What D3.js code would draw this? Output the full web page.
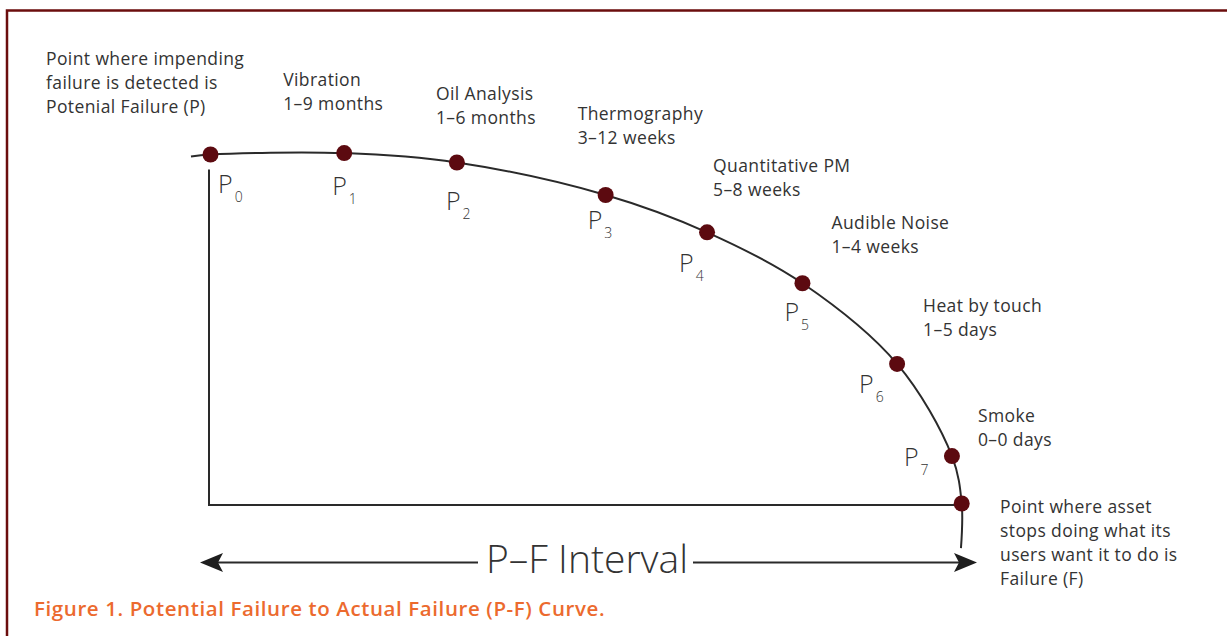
<!DOCTYPE html>
<html>
<head>
<meta charset="utf-8">
<script src="https://cdn.jsdelivr.net/npm/d3@7"></script>
<style>
  body { margin: 0; background: #fff; }
  svg text { font-family: "Open Sans", sans-serif; fill: #333; }
</style>
</head>
<body>
<svg id="chart" width="1227" height="636"></svg>
<script>
// P-F curve data: time runs 0 (P) .. 100 (F), condition 100 .. 0
const pointIds = ["0", "1", "2", "3", "4", "5", "6", "7"];
const pointTime = [0, 17.8, 32.8, 52.6, 66.1, 78.8, 91.4, 98.7, 100];
const pointCondition = [100, 100.4, 97.7, 88.4, 77.7, 63.1, 40.0, 13.6, 0];
const curveStart = [-2.6, 99.4];
const curveEnd = [99.9, -12.8];

const stageNames = ["Vibration", "Oil Analysis", "Thermography", "Quantitative PM",
  "Audible Noise", "Heat by touch", "Smoke"];
const stageRanges = ["1–9 months", "1–6 months", "3–12 weeks", "5–8 weeks",
  "1–4 weeks", "1–5 days", "0–0 days"];

const startNote = ["Point where impending", "failure is detected is", "Potenial Failure (P)"];
const endNote = ["Point where asset", "stops doing what its", "users want it to do is", "Failure (F)"];
const caption = "Figure 1. Potential Failure to Actual Failure (P-F) Curve.";

// layout nudges (pixels) for the annotations, relative to each dot
const stageNudge = [[-61, -67], [-21, -63], [-28, -75], [6, -60], [29, -54], [26, -52], [26, -34]];
const pNudge = [[7.5, 38.5], [-12, 42], [-11, 47], [-18, 34.5], [-28, 40], [-18, 38], [-38, 29.5], [-48, 10]];

const svg = d3.select('#chart');
const x = d3.scaleLinear().domain([0, 100]).range([210.5, 961.7]);
const y = d3.scaleLinear().domain([0, 100]).range([503.5, 154.5]);

const ink = '#2a2a2a';
const dotColor = '#5c0a10';
const labelSize = '17.5px';
const labelSpacing = '0.4px';

// frame
svg.append('rect')
  .attr('x', 7).attr('y', 10.5)
  .attr('width', 1240).attr('height', 660)
  .attr('fill', 'none')
  .attr('stroke', '#6b0d0d')
  .attr('stroke-width', 2.5);

// P-F interval box (vertical from P, horizontal to F)
const last = pointTime.length - 1;
svg.append('path')
  .attr('d', `M${x(0) - 1.5},${y(100) + 15}V${y(0) + 1.5}H${x(pointTime[last])}`)
  .attr('fill', 'none')
  .attr('stroke', ink)
  .attr('stroke-width', 2);

// curve
const pts = [curveStart]
  .concat(pointTime.map((t, i) => [t, pointCondition[i]]))
  .concat([curveEnd]);
const line = d3.line()
  .x(d => x(d[0]))
  .y(d => y(d[1]))
  .curve(d3.curveCatmullRom.alpha(0.5));
svg.append('path')
  .datum(pts)
  .attr('d', line)
  .attr('fill', 'none')
  .attr('stroke', ink)
  .attr('stroke-width', 2);

// dots
svg.append('g')
  .selectAll('circle')
  .data(pointTime)
  .enter().append('circle')
  .attr('cx', d => x(d))
  .attr('cy', (d, i) => y(pointCondition[i]))
  .attr('r', 8)
  .attr('fill', dotColor);

// P labels with subscripts
const pl = svg.append('g')
  .selectAll('text')
  .data(pointIds)
  .enter().append('text')
  .attr('x', (d, i) => x(pointTime[i]) + pNudge[i][0])
  .attr('y', (d, i) => y(pointCondition[i]) + pNudge[i][1])
  .style('font-size', '25px')
  .style('font-weight', 300);
pl.append('tspan').text('P');
pl.append('tspan')
  .attr('dx', 2).attr('dy', 9)
  .style('font-size', '14px')
  .text(d => d);

// stage labels
stageNames.forEach((name, k) => {
  const i = k + 1;
  const x0 = x(pointTime[i]) + stageNudge[k][0];
  const t = svg.append('text')
    .attr('x', x0)
    .attr('y', y(pointCondition[i]) + stageNudge[k][1])
    .style('font-size', labelSize)
    .style('letter-spacing', labelSpacing);
  [name, stageRanges[k]].forEach((s, j) => {
    t.append('tspan')
      .attr('x', x0)
      .attr('dy', j === 0 ? 0 : 24)
      .text(s);
  });
});

// notes at P and F
function note(lines, x0, y0) {
  const t = svg.append('text')
    .attr('x', x0).attr('y', y0)
    .style('font-size', labelSize)
    .style('letter-spacing', labelSpacing);
  lines.forEach((s, j) => {
    t.append('tspan').attr('x', x0).attr('dy', j === 0 ? 0 : 24).text(s);
  });
}
note(startNote, 46, 65);
note(endNote, 1000, 513);

// P-F interval arrow
const arrowY = 562.5;
svg.append('text')
  .attr('x', 587)
  .attr('y', 573)
  .attr('text-anchor', 'middle')
  .style('font-size', '39px')
  .style('font-weight', 300)
  .text('P–F Interval');

svg.append('line')
  .attr('x1', 210).attr('x2', 478)
  .attr('y1', arrowY).attr('y2', arrowY)
  .attr('stroke', ink).attr('stroke-width', 2.2);
svg.append('line')
  .attr('x1', 693).attr('x2', 968)
  .attr('y1', arrowY).attr('y2', arrowY)
  .attr('stroke', ink).attr('stroke-width', 2.2);

const head = (tip, dir) =>
  `M${tip},${arrowY}L${tip + dir * 23},${arrowY - 9.5}L${tip + dir * 18},${arrowY}L${tip + dir * 23},${arrowY + 9.5}Z`;
svg.append('path').attr('d', head(200, 1)).attr('fill', '#1e1e1e');
svg.append('path').attr('d', head(977, -1)).attr('fill', '#1e1e1e');

// caption
svg.append('text')
  .attr('x', 34)
  .attr('y', 616)
  .style('font-size', '20.5px')
  .style('font-weight', 600)
  .style('letter-spacing', '0.6px')
  .style('fill', '#ec6a2e')
  .text(caption);
</script>
</body>
</html>
